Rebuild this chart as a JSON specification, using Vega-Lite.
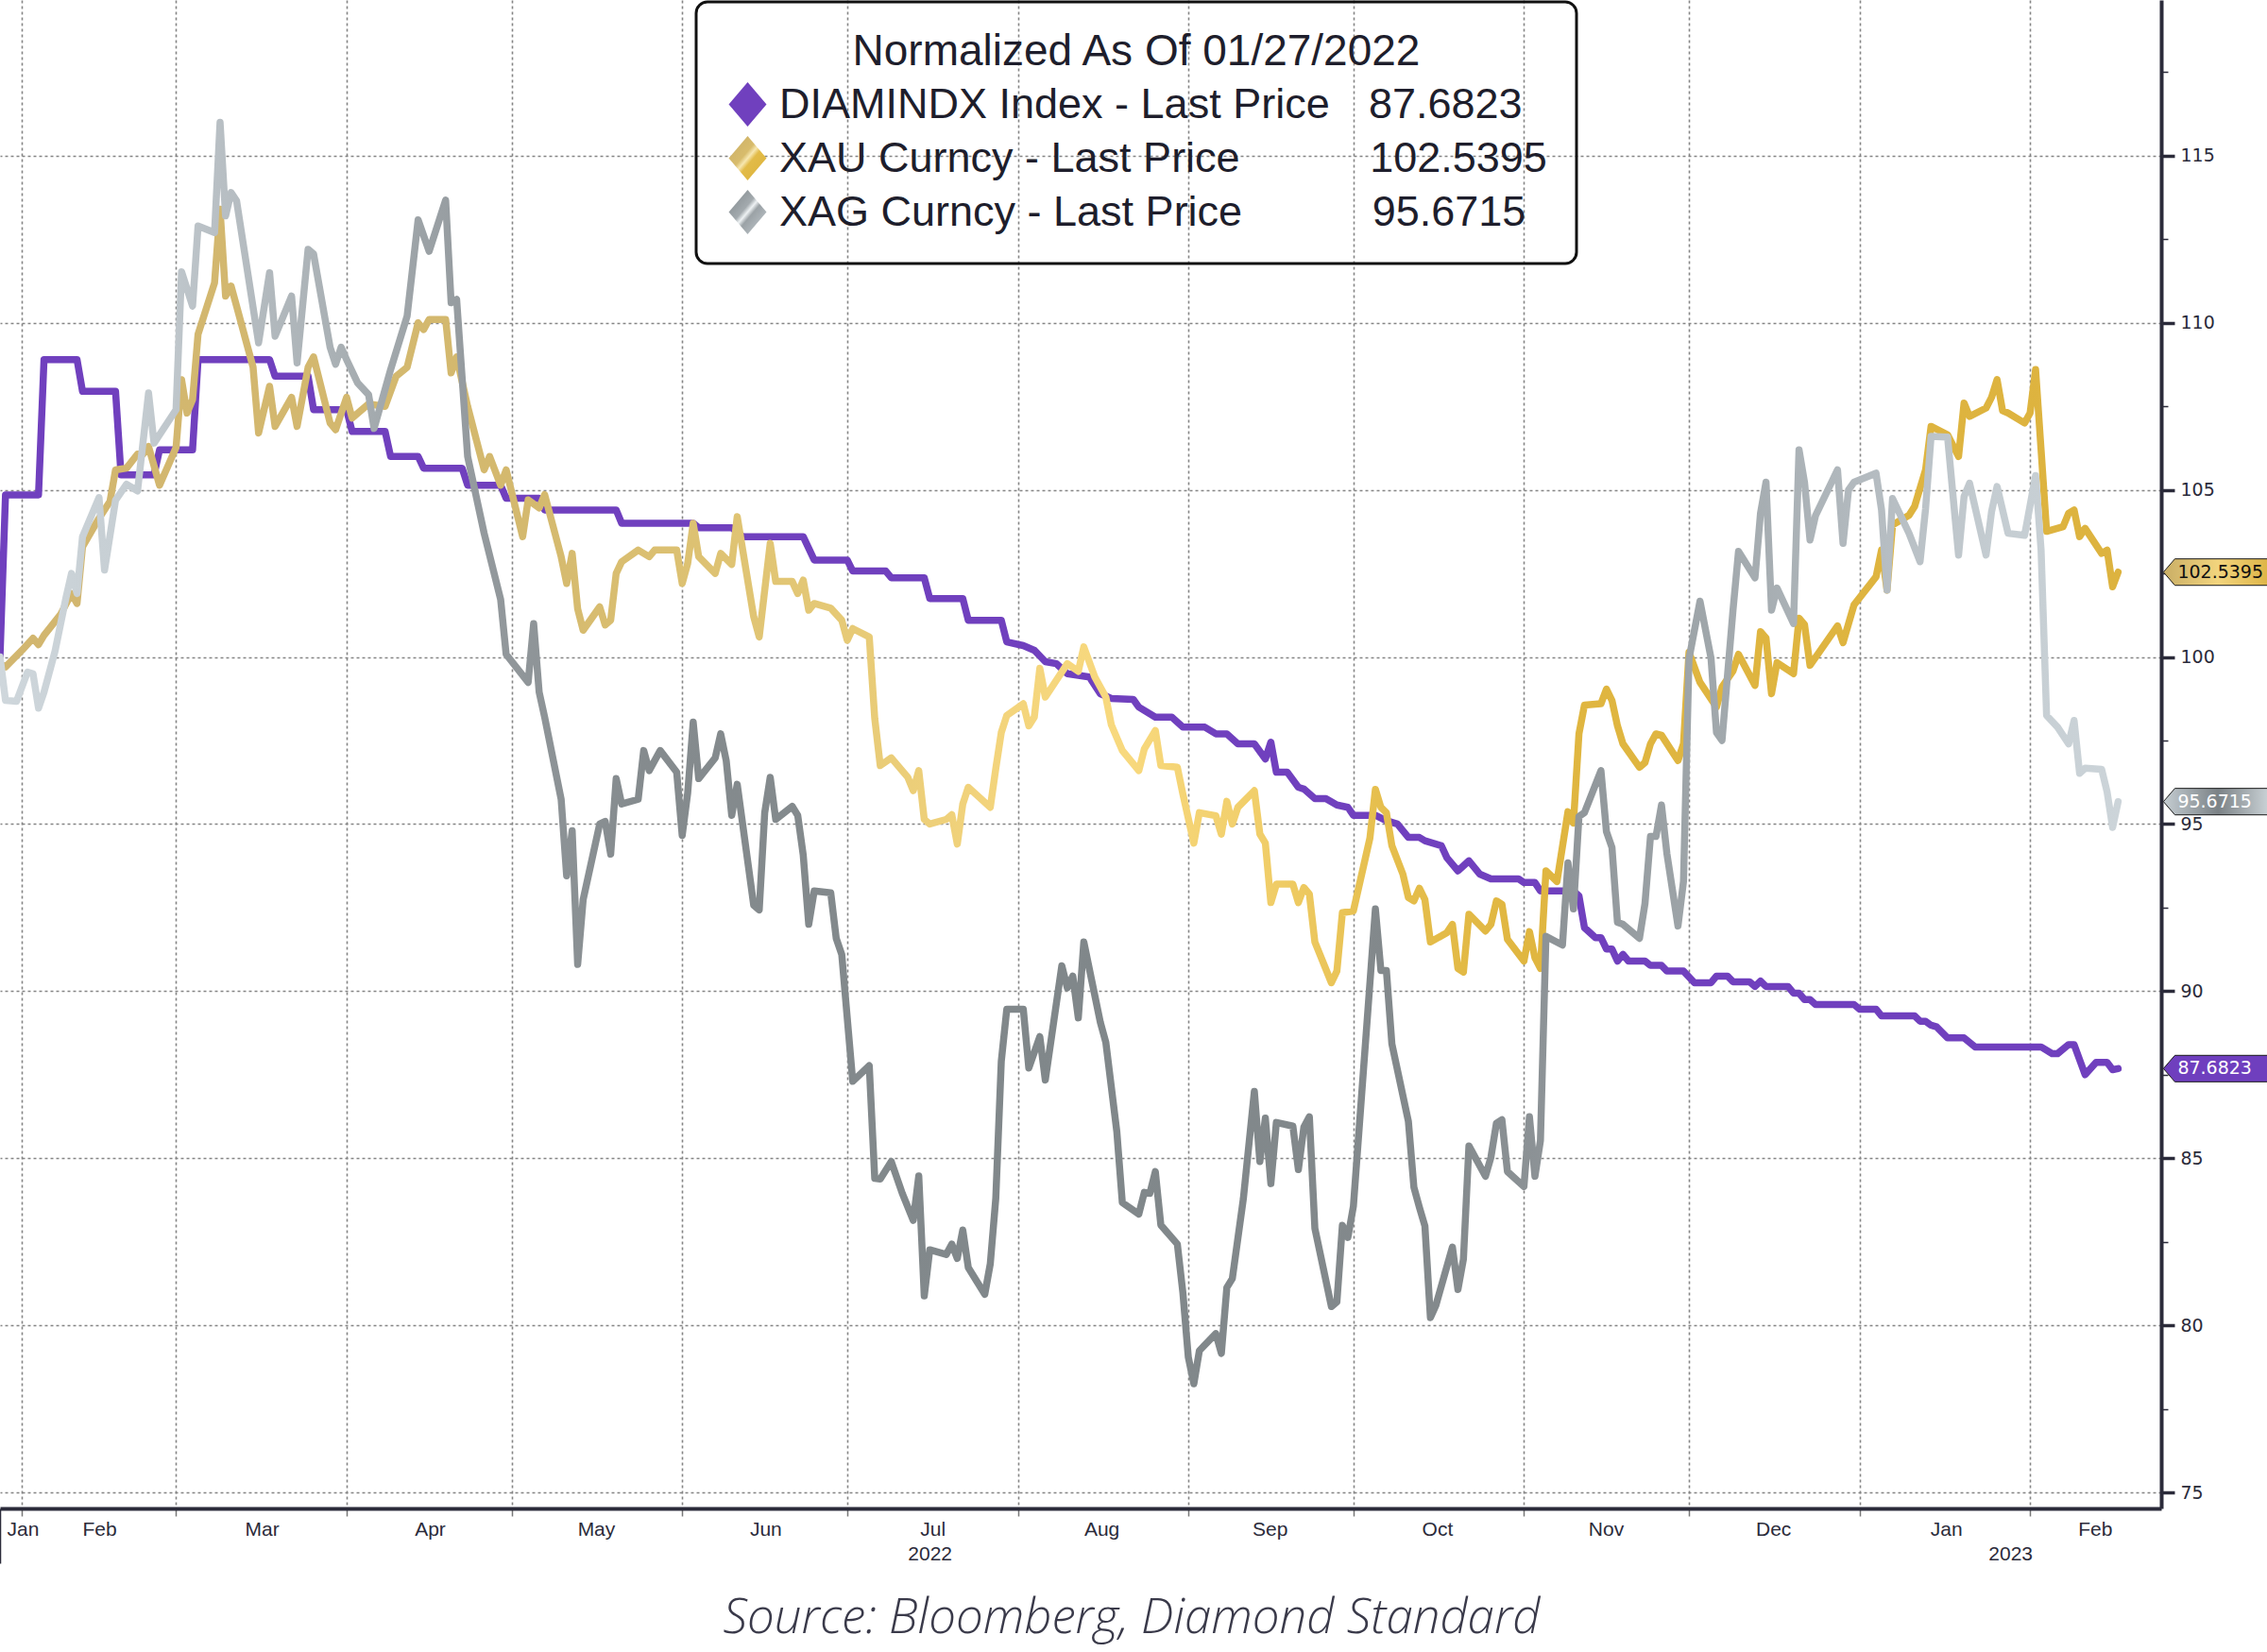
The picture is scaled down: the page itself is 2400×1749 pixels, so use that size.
{
  "$schema": "https://vega.github.io/schema/vega-lite/v6.json",
  "width": 2288,
  "height": 1597,
  "autosize": {"type": "none"},
  "padding": {"left": 0, "top": 0, "right": 112, "bottom": 152},
  "background": "#ffffff",
  "config": {"view": {"stroke": null}, "font": "Liberation Sans"},
  "title": {"text": "Source: Bloomberg, Diamond Standard", "orient": "bottom", "anchor": "middle", "dx": 54, "offset": 10, "font": "Open Sans", "fontSize": 51, "fontStyle": "italic", "fontWeight": 300, "color": "#3a3a4a"},
  "datasets": {
    "diam": [
      {"d":"2022-01-28","v":100},{"d":"2022-01-29","v":104.85},{"d":"2022-02-04","v":104.85},{"d":"2022-02-05","v":108.9},{"d":"2022-02-11","v":108.9},{"d":"2022-02-12","v":107.95},{"d":"2022-02-18","v":107.95},{"d":"2022-02-19","v":105.45},{"d":"2022-02-25","v":105.45},{"d":"2022-02-26","v":106.2},{"d":"2022-03-04","v":106.2},{"d":"2022-03-05","v":108.9},{"d":"2022-03-18","v":108.9},{"d":"2022-03-19","v":108.4},{"d":"2022-03-25","v":108.4},{"d":"2022-03-26","v":107.4},{"d":"2022-04-01","v":107.4},{"d":"2022-04-02","v":106.75},{"d":"2022-04-08","v":106.75},{"d":"2022-04-09","v":106.0},{"d":"2022-04-14","v":106.0},{"d":"2022-04-15","v":105.65},{"d":"2022-04-22","v":105.65},{"d":"2022-04-23","v":105.14},{"d":"2022-04-29","v":105.14},{"d":"2022-04-30","v":104.75},{"d":"2022-05-06","v":104.75},{"d":"2022-05-07","v":104.4},{"d":"2022-05-20","v":104.4},{"d":"2022-05-21","v":104.0},{"d":"2022-06-03","v":104.0},{"d":"2022-06-04","v":103.87},{"d":"2022-06-10","v":103.87},{"d":"2022-06-12","v":103.6},{"d":"2022-06-23","v":103.6},{"d":"2022-06-25","v":102.9},{"d":"2022-07-01","v":102.9},{"d":"2022-07-02","v":102.57},{"d":"2022-07-08","v":102.57},{"d":"2022-07-09","v":102.37},{"d":"2022-07-15","v":102.37},{"d":"2022-07-16","v":101.75},{"d":"2022-07-22","v":101.75},{"d":"2022-07-23","v":101.1},{"d":"2022-07-29","v":101.1},{"d":"2022-07-30","v":100.45},{"d":"2022-08-02","v":100.34},{"d":"2022-08-04","v":100.2},{"d":"2022-08-06","v":99.86},{"d":"2022-08-08","v":99.8},{"d":"2022-08-10","v":99.5},{"d":"2022-08-14","v":99.4},{"d":"2022-08-16","v":98.9},{"d":"2022-08-18","v":98.76},{"d":"2022-08-22","v":98.73},{"d":"2022-08-23","v":98.5},{"d":"2022-08-26","v":98.2},{"d":"2022-08-29","v":98.2},{"d":"2022-08-31","v":97.9},{"d":"2022-09-04","v":97.9},{"d":"2022-09-06","v":97.7},{"d":"2022-09-08","v":97.7},{"d":"2022-09-10","v":97.4},{"d":"2022-09-13","v":97.4},{"d":"2022-09-15","v":96.95},{"d":"2022-09-16","v":97.45},{"d":"2022-09-17","v":96.55},{"d":"2022-09-19","v":96.55},{"d":"2022-09-21","v":96.1},{"d":"2022-09-22","v":96.05},{"d":"2022-09-24","v":95.76},{"d":"2022-09-26","v":95.76},{"d":"2022-09-28","v":95.57},{"d":"2022-09-30","v":95.5},{"d":"2022-10-01","v":95.26},{"d":"2022-10-05","v":95.26},{"d":"2022-10-07","v":95.1},{"d":"2022-10-09","v":95.0},{"d":"2022-10-11","v":94.6},{"d":"2022-10-13","v":94.6},{"d":"2022-10-14","v":94.5},{"d":"2022-10-17","v":94.35},{"d":"2022-10-18","v":93.99},{"d":"2022-10-20","v":93.6},{"d":"2022-10-22","v":93.9},{"d":"2022-10-24","v":93.5},{"d":"2022-10-26","v":93.36},{"d":"2022-10-31","v":93.36},{"d":"2022-11-01","v":93.25},{"d":"2022-11-03","v":93.25},{"d":"2022-11-04","v":93.0},{"d":"2022-11-10","v":93.0},{"d":"2022-11-11","v":92.85},{"d":"2022-11-12","v":91.9},{"d":"2022-11-14","v":91.6},{"d":"2022-11-15","v":91.6},{"d":"2022-11-16","v":91.26},{"d":"2022-11-17","v":91.26},{"d":"2022-11-18","v":90.9},{"d":"2022-11-19","v":91.1},{"d":"2022-11-20","v":90.9},{"d":"2022-11-23","v":90.9},{"d":"2022-11-24","v":90.77},{"d":"2022-11-26","v":90.77},{"d":"2022-11-27","v":90.6},{"d":"2022-11-30","v":90.6},{"d":"2022-12-02","v":90.25},{"d":"2022-12-05","v":90.25},{"d":"2022-12-06","v":90.45},{"d":"2022-12-08","v":90.45},{"d":"2022-12-09","v":90.28},{"d":"2022-12-12","v":90.28},{"d":"2022-12-13","v":90.14},{"d":"2022-12-14","v":90.3},{"d":"2022-12-15","v":90.14},{"d":"2022-12-19","v":90.14},{"d":"2022-12-20","v":89.94},{"d":"2022-12-21","v":89.94},{"d":"2022-12-22","v":89.75},{"d":"2022-12-23","v":89.75},{"d":"2022-12-24","v":89.6},{"d":"2022-12-31","v":89.6},{"d":"2023-01-01","v":89.46},{"d":"2023-01-04","v":89.46},{"d":"2023-01-05","v":89.26},{"d":"2023-01-11","v":89.26},{"d":"2023-01-12","v":89.1},{"d":"2023-01-13","v":89.1},{"d":"2023-01-14","v":88.98},{"d":"2023-01-15","v":88.93},{"d":"2023-01-17","v":88.6},{"d":"2023-01-20","v":88.6},{"d":"2023-01-22","v":88.33},{"d":"2023-02-03","v":88.33},{"d":"2023-02-05","v":88.13},{"d":"2023-02-06","v":88.13},{"d":"2023-02-08","v":88.4},{"d":"2023-02-09","v":88.4},{"d":"2023-02-11","v":87.5},{"d":"2023-02-13","v":87.87},{"d":"2023-02-15","v":87.87},{"d":"2023-02-16","v":87.65},{"d":"2023-02-17","v":87.6823}
    ],
    "xau": [
      {"d":"2022-01-28","v":99.8},{"d":"2022-01-29","v":99.7},{"d":"2022-02-01","v":100.2},{"d":"2022-02-03","v":100.56},{"d":"2022-02-04","v":100.37},{"d":"2022-02-05","v":100.65},{"d":"2022-02-08","v":101.27},{"d":"2022-02-10","v":101.9},{"d":"2022-02-11","v":101.6},{"d":"2022-02-12","v":103.3},{"d":"2022-02-15","v":104.15},{"d":"2022-02-17","v":104.66},{"d":"2022-02-18","v":105.6},{"d":"2022-02-20","v":105.65},{"d":"2022-02-22","v":106.07},{"d":"2022-02-23","v":106.07},{"d":"2022-02-24","v":106.3},{"d":"2022-02-26","v":105.14},{"d":"2022-03-01","v":106.27},{"d":"2022-03-02","v":108.3},{"d":"2022-03-03","v":107.3},{"d":"2022-03-04","v":107.7},{"d":"2022-03-05","v":109.66},{"d":"2022-03-08","v":111.2},{"d":"2022-03-09","v":113.4},{"d":"2022-03-10","v":110.8},{"d":"2022-03-11","v":111.1},{"d":"2022-03-12","v":110.5},{"d":"2022-03-15","v":108.67},{"d":"2022-03-16","v":106.7},{"d":"2022-03-18","v":108.1},{"d":"2022-03-19","v":106.9},{"d":"2022-03-22","v":107.77},{"d":"2022-03-23","v":106.9},{"d":"2022-03-25","v":108.67},{"d":"2022-03-26","v":108.98},{"d":"2022-03-29","v":107.0},{"d":"2022-03-30","v":106.8},{"d":"2022-04-01","v":107.77},{"d":"2022-04-02","v":107.15},{"d":"2022-04-05","v":107.57},{"d":"2022-04-08","v":107.5},{"d":"2022-04-10","v":108.4},{"d":"2022-04-12","v":108.67},{"d":"2022-04-14","v":110.0},{"d":"2022-04-15","v":109.8},{"d":"2022-04-16","v":110.1},{"d":"2022-04-19","v":110.1},{"d":"2022-04-20","v":108.5},{"d":"2022-04-21","v":108.98},{"d":"2022-04-23","v":107.5},{"d":"2022-04-26","v":105.6},{"d":"2022-04-27","v":106.0},{"d":"2022-04-29","v":105.14},{"d":"2022-04-30","v":105.6},{"d":"2022-05-03","v":103.6},{"d":"2022-05-04","v":104.7},{"d":"2022-05-06","v":104.46},{"d":"2022-05-07","v":104.86},{"d":"2022-05-10","v":103.0},{"d":"2022-05-11","v":102.2},{"d":"2022-05-12","v":103.1},{"d":"2022-05-13","v":101.44},{"d":"2022-05-14","v":100.8},{"d":"2022-05-17","v":101.5},{"d":"2022-05-18","v":100.96},{"d":"2022-05-19","v":101.1},{"d":"2022-05-20","v":102.5},{"d":"2022-05-21","v":102.85},{"d":"2022-05-24","v":103.2},{"d":"2022-05-26","v":103.0},{"d":"2022-05-27","v":103.2},{"d":"2022-05-31","v":103.2},{"d":"2022-06-01","v":102.2},{"d":"2022-06-02","v":102.8},{"d":"2022-06-03","v":104.0},{"d":"2022-06-04","v":103.0},{"d":"2022-06-07","v":102.5},{"d":"2022-06-08","v":103.1},{"d":"2022-06-10","v":102.77},{"d":"2022-06-11","v":104.2},{"d":"2022-06-14","v":101.2},{"d":"2022-06-15","v":100.6},{"d":"2022-06-17","v":103.4},{"d":"2022-06-18","v":102.26},{"d":"2022-06-21","v":102.26},{"d":"2022-06-22","v":101.9},{"d":"2022-06-23","v":102.3},{"d":"2022-06-24","v":101.4},{"d":"2022-06-25","v":101.6},{"d":"2022-06-28","v":101.46},{"d":"2022-06-30","v":101.1},{"d":"2022-07-01","v":100.5},{"d":"2022-07-02","v":100.85},{"d":"2022-07-05","v":100.6},{"d":"2022-07-06","v":98.16},{"d":"2022-07-07","v":96.75},{"d":"2022-07-09","v":96.98},{"d":"2022-07-12","v":96.4},{"d":"2022-07-13","v":96.0},{"d":"2022-07-14","v":96.6},{"d":"2022-07-15","v":95.14},{"d":"2022-07-16","v":95.0},{"d":"2022-07-19","v":95.14},{"d":"2022-07-20","v":95.28},{"d":"2022-07-21","v":94.4},{"d":"2022-07-22","v":95.6},{"d":"2022-07-23","v":96.1},{"d":"2022-07-27","v":95.5},{"d":"2022-07-28","v":96.66},{"d":"2022-07-29","v":97.74},{"d":"2022-07-30","v":98.25},{"d":"2022-08-02","v":98.6},{"d":"2022-08-03","v":97.94},{"d":"2022-08-04","v":98.2},{"d":"2022-08-05","v":99.66},{"d":"2022-08-06","v":98.8},{"d":"2022-08-10","v":99.8},{"d":"2022-08-12","v":99.57},{"d":"2022-08-13","v":100.3},{"d":"2022-08-15","v":99.4},{"d":"2022-08-17","v":98.8},{"d":"2022-08-18","v":97.97},{"d":"2022-08-20","v":97.2},{"d":"2022-08-23","v":96.6},{"d":"2022-08-24","v":97.25},{"d":"2022-08-26","v":97.8},{"d":"2022-08-27","v":96.75},{"d":"2022-08-30","v":96.7},{"d":"2022-08-31","v":95.9},{"d":"2022-09-02","v":94.43},{"d":"2022-09-03","v":95.34},{"d":"2022-09-06","v":95.25},{"d":"2022-09-07","v":94.7},{"d":"2022-09-08","v":95.68},{"d":"2022-09-09","v":95.0},{"d":"2022-09-10","v":95.5},{"d":"2022-09-13","v":96.0},{"d":"2022-09-14","v":94.7},{"d":"2022-09-15","v":94.43},{"d":"2022-09-16","v":92.65},{"d":"2022-09-17","v":93.2},{"d":"2022-09-20","v":93.2},{"d":"2022-09-21","v":92.65},{"d":"2022-09-22","v":93.1},{"d":"2022-09-23","v":92.9},{"d":"2022-09-24","v":91.47},{"d":"2022-09-27","v":90.25},{"d":"2022-09-28","v":90.6},{"d":"2022-09-29","v":92.35},{"d":"2022-10-01","v":92.4},{"d":"2022-10-04","v":94.58},{"d":"2022-10-05","v":96.04},{"d":"2022-10-06","v":95.5},{"d":"2022-10-07","v":95.34},{"d":"2022-10-08","v":94.35},{"d":"2022-10-10","v":93.5},{"d":"2022-10-11","v":92.8},{"d":"2022-10-12","v":92.7},{"d":"2022-10-13","v":93.08},{"d":"2022-10-14","v":92.74},{"d":"2022-10-15","v":91.47},{"d":"2022-10-18","v":91.75},{"d":"2022-10-19","v":92.0},{"d":"2022-10-20","v":90.68},{"d":"2022-10-21","v":90.57},{"d":"2022-10-22","v":92.3},{"d":"2022-10-25","v":91.8},{"d":"2022-10-26","v":92.0},{"d":"2022-10-27","v":92.7},{"d":"2022-10-28","v":92.6},{"d":"2022-10-29","v":91.55},{"d":"2022-11-01","v":90.9},{"d":"2022-11-02","v":91.78},{"d":"2022-11-03","v":91.0},{"d":"2022-11-04","v":90.68},{"d":"2022-11-05","v":93.6},{"d":"2022-11-07","v":93.28},{"d":"2022-11-09","v":95.37},{"d":"2022-11-10","v":95.03},{"d":"2022-11-11","v":97.7},{"d":"2022-11-12","v":98.56},{"d":"2022-11-15","v":98.6},{"d":"2022-11-16","v":99.04},{"d":"2022-11-17","v":98.7},{"d":"2022-11-18","v":97.94},{"d":"2022-11-19","v":97.4},{"d":"2022-11-22","v":96.7},{"d":"2022-11-23","v":96.84},{"d":"2022-11-24","v":97.4},{"d":"2022-11-25","v":97.7},{"d":"2022-11-26","v":97.66},{"d":"2022-11-29","v":96.9},{"d":"2022-11-30","v":97.4},{"d":"2022-12-01","v":100.14},{"d":"2022-12-03","v":99.24},{"d":"2022-12-06","v":98.5},{"d":"2022-12-07","v":99.1},{"d":"2022-12-09","v":99.58},{"d":"2022-12-10","v":100.08},{"d":"2022-12-13","v":99.15},{"d":"2022-12-14","v":100.76},{"d":"2022-12-15","v":100.57},{"d":"2022-12-16","v":98.9},{"d":"2022-12-17","v":99.83},{"d":"2022-12-20","v":99.5},{"d":"2022-12-21","v":101.16},{"d":"2022-12-22","v":100.97},{"d":"2022-12-23","v":99.75},{"d":"2022-12-28","v":100.93},{"d":"2022-12-29","v":100.43},{"d":"2022-12-31","v":101.56},{"d":"2023-01-04","v":102.4},{"d":"2023-01-05","v":103.2},{"d":"2023-01-06","v":102.0},{"d":"2023-01-07","v":103.95},{"d":"2023-01-10","v":104.24},{"d":"2023-01-11","v":104.5},{"d":"2023-01-13","v":105.6},{"d":"2023-01-14","v":106.9},{"d":"2023-01-17","v":106.65},{"d":"2023-01-19","v":106.0},{"d":"2023-01-20","v":107.6},{"d":"2023-01-21","v":107.2},{"d":"2023-01-24","v":107.45},{"d":"2023-01-25","v":107.77},{"d":"2023-01-26","v":108.3},{"d":"2023-01-27","v":107.37},{"d":"2023-01-28","v":107.3},{"d":"2023-01-31","v":107.0},{"d":"2023-02-01","v":107.3},{"d":"2023-02-02","v":108.6},{"d":"2023-02-03","v":106.2},{"d":"2023-02-04","v":103.76},{"d":"2023-02-07","v":103.9},{"d":"2023-02-08","v":104.3},{"d":"2023-02-09","v":104.4},{"d":"2023-02-10","v":103.6},{"d":"2023-02-11","v":103.85},{"d":"2023-02-14","v":103.1},{"d":"2023-02-15","v":103.2},{"d":"2023-02-16","v":102.1},{"d":"2023-02-17","v":102.5395}
    ],
    "xag": [
      {"d":"2022-01-28","v":100.0},{"d":"2022-01-29","v":98.7},{"d":"2022-01-31","v":98.67},{"d":"2022-02-02","v":99.55},{"d":"2022-02-03","v":99.5},{"d":"2022-02-04","v":98.47},{"d":"2022-02-05","v":98.95},{"d":"2022-02-07","v":100.17},{"d":"2022-02-09","v":101.78},{"d":"2022-02-10","v":102.5},{"d":"2022-02-11","v":101.9},{"d":"2022-02-12","v":103.6},{"d":"2022-02-15","v":104.77},{"d":"2022-02-16","v":102.6},{"d":"2022-02-17","v":103.64},{"d":"2022-02-18","v":104.69},{"d":"2022-02-20","v":105.17},{"d":"2022-02-22","v":104.97},{"d":"2022-02-24","v":107.9},{"d":"2022-02-25","v":106.4},{"d":"2022-03-01","v":107.4},{"d":"2022-03-02","v":111.53},{"d":"2022-03-04","v":110.5},{"d":"2022-03-05","v":112.9},{"d":"2022-03-08","v":112.7},{"d":"2022-03-09","v":116.0},{"d":"2022-03-10","v":113.2},{"d":"2022-03-11","v":113.9},{"d":"2022-03-12","v":113.65},{"d":"2022-03-16","v":109.4},{"d":"2022-03-18","v":111.5},{"d":"2022-03-19","v":109.6},{"d":"2022-03-22","v":110.8},{"d":"2022-03-23","v":108.8},{"d":"2022-03-25","v":112.2},{"d":"2022-03-26","v":112.06},{"d":"2022-03-29","v":109.27},{"d":"2022-03-30","v":108.76},{"d":"2022-03-31","v":109.27},{"d":"2022-04-01","v":108.9},{"d":"2022-04-03","v":108.2},{"d":"2022-04-05","v":107.85},{"d":"2022-04-06","v":106.84},{"d":"2022-04-09","v":108.6},{"d":"2022-04-12","v":110.2},{"d":"2022-04-14","v":113.08},{"d":"2022-04-16","v":112.14},{"d":"2022-04-19","v":113.67},{"d":"2022-04-20","v":110.6},{"d":"2022-04-21","v":110.7},{"d":"2022-04-23","v":106.0},{"d":"2022-04-26","v":103.7},{"d":"2022-04-29","v":101.72},{"d":"2022-04-30","v":100.08},{"d":"2022-05-04","v":99.24},{"d":"2022-05-05","v":101.0},{"d":"2022-05-06","v":98.95},{"d":"2022-05-07","v":98.2},{"d":"2022-05-10","v":95.74},{"d":"2022-05-11","v":93.45},{"d":"2022-05-12","v":94.8},{"d":"2022-05-13","v":90.8},{"d":"2022-05-14","v":92.74},{"d":"2022-05-17","v":95.0},{"d":"2022-05-18","v":95.08},{"d":"2022-05-19","v":94.1},{"d":"2022-05-20","v":96.36},{"d":"2022-05-21","v":95.6},{"d":"2022-05-24","v":95.74},{"d":"2022-05-25","v":97.2},{"d":"2022-05-26","v":96.6},{"d":"2022-05-28","v":97.2},{"d":"2022-05-31","v":96.55},{"d":"2022-06-01","v":94.66},{"d":"2022-06-02","v":95.93},{"d":"2022-06-03","v":98.05},{"d":"2022-06-04","v":96.36},{"d":"2022-06-07","v":96.98},{"d":"2022-06-08","v":97.7},{"d":"2022-06-09","v":96.9},{"d":"2022-06-10","v":95.26},{"d":"2022-06-11","v":96.19},{"d":"2022-06-14","v":92.57},{"d":"2022-06-15","v":92.43},{"d":"2022-06-16","v":95.34},{"d":"2022-06-17","v":96.4},{"d":"2022-06-18","v":95.14},{"d":"2022-06-21","v":95.53},{"d":"2022-06-22","v":95.26},{"d":"2022-06-23","v":94.07},{"d":"2022-06-24","v":92.0},{"d":"2022-06-25","v":93.0},{"d":"2022-06-28","v":92.94},{"d":"2022-06-29","v":91.58},{"d":"2022-06-30","v":91.1},{"d":"2022-07-02","v":87.3},{"d":"2022-07-05","v":87.77},{"d":"2022-07-06","v":84.4},{"d":"2022-07-07","v":84.38},{"d":"2022-07-09","v":84.9},{"d":"2022-07-11","v":83.95},{"d":"2022-07-13","v":83.14},{"d":"2022-07-14","v":84.47},{"d":"2022-07-15","v":80.88},{"d":"2022-07-16","v":82.26},{"d":"2022-07-19","v":82.12},{"d":"2022-07-20","v":82.43},{"d":"2022-07-21","v":82.0},{"d":"2022-07-22","v":82.85},{"d":"2022-07-23","v":81.73},{"d":"2022-07-26","v":80.93},{"d":"2022-07-27","v":81.84},{"d":"2022-07-28","v":83.8},{"d":"2022-07-29","v":87.9},{"d":"2022-07-30","v":89.46},{"d":"2022-08-02","v":89.46},{"d":"2022-08-03","v":87.7},{"d":"2022-08-05","v":88.64},{"d":"2022-08-06","v":87.34},{"d":"2022-08-09","v":90.76},{"d":"2022-08-10","v":90.1},{"d":"2022-08-11","v":90.45},{"d":"2022-08-12","v":89.2},{"d":"2022-08-13","v":91.47},{"d":"2022-08-16","v":89.07},{"d":"2022-08-17","v":88.47},{"d":"2022-08-19","v":85.8},{"d":"2022-08-20","v":83.67},{"d":"2022-08-23","v":83.33},{"d":"2022-08-24","v":83.98},{"d":"2022-08-25","v":83.95},{"d":"2022-08-26","v":84.6},{"d":"2022-08-27","v":83.0},{"d":"2022-08-30","v":82.43},{"d":"2022-08-31","v":80.99},{"d":"2022-09-01","v":79.04},{"d":"2022-09-02","v":78.25},{"d":"2022-09-03","v":79.24},{"d":"2022-09-06","v":79.75},{"d":"2022-09-07","v":79.16},{"d":"2022-09-08","v":81.13},{"d":"2022-09-09","v":81.4},{"d":"2022-09-11","v":83.79},{"d":"2022-09-13","v":87.0},{"d":"2022-09-14","v":84.9},{"d":"2022-09-15","v":86.2},{"d":"2022-09-16","v":84.24},{"d":"2022-09-17","v":86.07},{"d":"2022-09-20","v":85.96},{"d":"2022-09-21","v":84.66},{"d":"2022-09-22","v":85.93},{"d":"2022-09-23","v":86.24},{"d":"2022-09-24","v":82.9},{"d":"2022-09-27","v":80.56},{"d":"2022-09-28","v":80.7},{"d":"2022-09-29","v":82.99},{"d":"2022-09-30","v":82.63},{"d":"2022-10-01","v":83.56},{"d":"2022-10-05","v":92.46},{"d":"2022-10-06","v":90.62},{"d":"2022-10-07","v":90.62},{"d":"2022-10-08","v":88.42},{"d":"2022-10-11","v":86.1},{"d":"2022-10-12","v":84.13},{"d":"2022-10-13","v":83.53},{"d":"2022-10-14","v":82.97},{"d":"2022-10-15","v":80.23},{"d":"2022-10-16","v":80.6},{"d":"2022-10-19","v":82.34},{"d":"2022-10-20","v":81.07},{"d":"2022-10-21","v":81.98},{"d":"2022-10-22","v":85.37},{"d":"2022-10-25","v":84.46},{"d":"2022-10-26","v":85.03},{"d":"2022-10-27","v":86.05},{"d":"2022-10-28","v":86.15},{"d":"2022-10-29","v":84.6},{"d":"2022-11-01","v":84.15},{"d":"2022-11-02","v":86.24},{"d":"2022-11-03","v":84.46},{"d":"2022-11-04","v":85.53},{"d":"2022-11-05","v":91.64},{"d":"2022-11-08","v":91.38},{"d":"2022-11-09","v":93.84},{"d":"2022-11-10","v":92.46},{"d":"2022-11-11","v":95.23},{"d":"2022-11-12","v":95.34},{"d":"2022-11-15","v":96.6},{"d":"2022-11-16","v":94.77},{"d":"2022-11-17","v":94.3},{"d":"2022-11-18","v":92.06},{"d":"2022-11-19","v":92.0},{"d":"2022-11-22","v":91.58},{"d":"2022-11-23","v":92.62},{"d":"2022-11-24","v":94.63},{"d":"2022-11-25","v":94.63},{"d":"2022-11-26","v":95.57},{"d":"2022-11-27","v":94.1},{"d":"2022-11-29","v":91.95},{"d":"2022-11-30","v":93.28},{"d":"2022-12-01","v":99.94},{"d":"2022-12-03","v":101.67},{"d":"2022-12-05","v":99.97},{"d":"2022-12-06","v":97.74},{"d":"2022-12-07","v":97.5},{"d":"2022-12-09","v":101.4},{"d":"2022-12-10","v":103.16},{"d":"2022-12-13","v":102.37},{"d":"2022-12-14","v":104.3},{"d":"2022-12-15","v":105.23},{"d":"2022-12-16","v":101.4},{"d":"2022-12-17","v":102.06},{"d":"2022-12-20","v":101.0},{"d":"2022-12-21","v":106.2},{"d":"2022-12-22","v":105.23},{"d":"2022-12-23","v":103.5},{"d":"2022-12-24","v":104.23},{"d":"2022-12-28","v":105.6},{"d":"2022-12-29","v":103.4},{"d":"2022-12-30","v":105.0},{"d":"2022-12-31","v":105.23},{"d":"2023-01-04","v":105.5},{"d":"2023-01-05","v":104.4},{"d":"2023-01-06","v":102.0},{"d":"2023-01-07","v":104.74},{"d":"2023-01-10","v":103.7},{"d":"2023-01-12","v":102.85},{"d":"2023-01-13","v":104.43},{"d":"2023-01-14","v":106.6},{"d":"2023-01-17","v":106.58},{"d":"2023-01-19","v":103.05},{"d":"2023-01-20","v":104.8},{"d":"2023-01-21","v":105.2},{"d":"2023-01-24","v":103.05},{"d":"2023-01-25","v":104.35},{"d":"2023-01-26","v":105.1},{"d":"2023-01-28","v":103.7},{"d":"2023-01-31","v":103.64},{"d":"2023-02-02","v":105.43},{"d":"2023-02-03","v":103.2},{"d":"2023-02-04","v":98.25},{"d":"2023-02-06","v":97.9},{"d":"2023-02-08","v":97.4},{"d":"2023-02-09","v":98.1},{"d":"2023-02-10","v":96.52},{"d":"2023-02-11","v":96.67},{"d":"2023-02-14","v":96.64},{"d":"2023-02-15","v":95.96},{"d":"2023-02-16","v":94.9},{"d":"2023-02-17","v":95.6715}
    ],
    "tags": [
      {"d":"2023-02-17","v":102.5395,"s":"XAU"},
      {"d":"2023-02-17","v":95.6715,"s":"XAG"},
      {"d":"2023-02-17","v":87.6823,"s":"DIAMINDX"}
    ]
  },
  "encoding": {
    "x": {
      "field": "d", "type": "temporal",
      "scale": {"type": "utc", "domain": [{"year": 2022, "month": 1, "date": 28, "utc": true}, {"year": 2023, "month": 2, "date": 24, "hours": 20, "utc": true}]},
      "axis": {
        "title": null,
        "values": [
          {"year": 2022, "month": 1, "date": 28, "utc": true},
          {"year": 2022, "month": 2, "date": 1, "utc": true},
          {"year": 2022, "month": 3, "date": 1, "utc": true},
          {"year": 2022, "month": 4, "date": 1, "utc": true},
          {"year": 2022, "month": 5, "date": 1, "utc": true},
          {"year": 2022, "month": 6, "date": 1, "utc": true},
          {"year": 2022, "month": 7, "date": 1, "utc": true},
          {"year": 2022, "month": 8, "date": 1, "utc": true},
          {"year": 2022, "month": 9, "date": 1, "utc": true},
          {"year": 2022, "month": 10, "date": 1, "utc": true},
          {"year": 2022, "month": 11, "date": 1, "utc": true},
          {"year": 2022, "month": 12, "date": 1, "utc": true},
          {"year": 2023, "month": 1, "date": 1, "utc": true},
          {"year": 2023, "month": 2, "date": 1, "utc": true},
          {"year": 2022, "month": 2, "date": 1, "hours": 3, "utc": true},
          {"year": 2022, "month": 2, "date": 15, "hours": 1, "utc": true},
          {"year": 2022, "month": 3, "date": 16, "hours": 14, "utc": true},
          {"year": 2022, "month": 4, "date": 16, "hours": 3, "utc": true},
          {"year": 2022, "month": 5, "date": 16, "hours": 8, "utc": true},
          {"year": 2022, "month": 6, "date": 16, "hours": 3, "utc": true},
          {"year": 2022, "month": 7, "date": 16, "hours": 12, "utc": true},
          {"year": 2022, "month": 8, "date": 16, "hours": 5, "utc": true},
          {"year": 2022, "month": 9, "date": 15, "hours": 19, "utc": true},
          {"year": 2022, "month": 10, "date": 16, "hours": 5, "utc": true},
          {"year": 2022, "month": 11, "date": 15, "hours": 21, "utc": true},
          {"year": 2022, "month": 12, "date": 16, "hours": 7, "utc": true},
          {"year": 2023, "month": 1, "date": 16, "hours": 17, "utc": true},
          {"year": 2023, "month": 2, "date": 12, "hours": 19, "utc": true},
          {"year": 2022, "month": 7, "date": 15, "hours": 23, "minutes": 30, "utc": true},
          {"year": 2023, "month": 1, "date": 28, "hours": 9, "minutes": 30, "utc": true}
        ],
        "labelExpr": "utchours(datum.value) == 0 ? '' : utcFormat(datum.value - 432000000, utcminutes(datum.value) == 30 ? '%Y' : '%b')",
        "labelFont": "Liberation Sans", "labelFontSize": 21, "labelColor": "#2b2b3a",
        "labelAngle": 0, "labelAlign": "center", "labelBaseline": "top",
        "labelOverlap": false, "labelFlush": false, "labelBound": false,
        "labelPadding": {"condition": {"test": "utcminutes(datum.value) == 30", "value": 29}, "value": 3},
        "grid": true, "gridColor": "#858585", "gridDash": [3, 3], "gridWidth": 1.6,
        "gridOpacity": {"condition": {"test": "utchours(datum.value) == 0 && utcdate(datum.value) == 1", "value": 1}, "value": 0},
        "tickOpacity": {"condition": {"test": "utchours(datum.value) == 0", "value": 1}, "value": 0},
        "tickSize": {"condition": {"test": "utchours(datum.value) == 0 && utcdate(datum.value) == 28", "value": 58}, "value": 8},
        "tickColor": {"condition": {"test": "utchours(datum.value) == 0 && utcdate(datum.value) == 28", "value": "#2b2b3a"}, "value": "#777777"},
        "tickWidth": 1.5,
        "domainColor": "#2b2b3a", "domainWidth": 4
      }
    },
    "y": {
      "field": "v", "type": "quantitative",
      "scale": {"domain": [74.52, 119.66], "nice": false, "zero": false},
      "axis": {
        "title": null, "orient": "right",
        "values": [75, 77.5, 80, 82.5, 85, 87.5, 90, 92.5, 95, 97.5, 100, 102.5, 105, 107.5, 110, 112.5, 115, 117.5],
        "labelExpr": "datum.value % 5 == 0 ? datum.label : ''",
        "labelFont": "DejaVu Sans", "labelFontSize": 19, "labelColor": "#2b2b3a", "labelPadding": 6,
        "labelOverlap": false, "labelFlush": false, "labelBound": false,
        "tickColor": "#2b2b3a",
        "tickSize": {"condition": {"test": "datum.value % 5 == 0", "value": 14}, "value": 7},
        "tickWidth": {"condition": {"test": "datum.value % 5 == 0", "value": 3.5}, "value": 1.5},
        "grid": true, "gridColor": "#858585", "gridDash": [3, 3], "gridWidth": 1.6,
        "gridOpacity": {"condition": {"test": "datum.value % 5 == 0", "value": 1}, "value": 0},
        "domainColor": "#2b2b3a", "domainWidth": 4
      }
    }
  },
  "layer": [
    {
      "data": {"name": "diam"},
      "mark": {"type": "line", "strokeWidth": 7.5, "strokeCap": "round", "strokeJoin": "round"},
      "encoding": {
        "color": {
          "datum": "DIAMINDX Index - Last Price", "type": "nominal",
          "scale": {"domain": ["DIAMINDX Index - Last Price", "XAU Curncy - Last Price", "XAG Curncy - Last Price"], "range": ["#7040be", "#d8b85a", "#a0a7ab"]},
          "legend": {
            "orient": "none", "legendX": 737, "legendY": 2,
            "title": "Normalized As Of 01/27/2022",
            "titleFont": "Liberation Sans", "titleFontSize": 46, "titleFontWeight": "normal", "titleColor": "#1e1e2c", "titleAnchor": "middle", "titlePadding": 8, "titleLimit": 2000,
            "labelFont": "Liberation Sans", "labelFontSize": 45, "labelColor": "#1e1e2c", "labelLimit": 2000, "labelOffset": 10,
            "symbolType": "M0,-1L0.85,0L0,1L-0.85,0Z", "symbolSize": 2209, "symbolStrokeWidth": 0, "symbolOpacity": 1,
            "rowPadding": 10, "padding": 31, "strokeColor": "#111111", "cornerRadius": 12,
            "labelExpr": "datum.value === 'DIAMINDX Index - Last Price' ? datum.label + '\u00a0\u00a0\u00a0\u200a87.6823' : datum.value === 'XAU Curncy - Last Price' ? datum.label + '\u00a0\u00a0\u00a0\u00a0\u00a0\u00a0\u00a0\u00a0\u00a0\u00a0\u00a0102.5395' : datum.label + '\u00a0\u00a0\u00a0\u00a0\u00a0\u00a0\u00a0\u00a0\u00a0\u00a0\u00a095.6715'",
            "encode": {
              "legend": {"update": {"strokeWidth": {"value": 3}}},
              "symbols": {"update": {
                "fill": {"signal": "datum.value === 'XAU Curncy - Last Price' ? {gradient: 'linear', x1: 0, y1: 0, x2: 1, y2: 1, stops: [{offset: 0, color: '#c9ad68'}, {offset: 0.42, color: '#d8bc6c'}, {offset: 0.5, color: '#f7e7b0'}, {offset: 0.58, color: '#e2bb48'}, {offset: 1, color: '#dcb23a'}]} : datum.value === 'XAG Curncy - Last Price' ? {gradient: 'linear', x1: 0, y1: 0, x2: 1, y2: 1, stops: [{offset: 0, color: '#7f868a'}, {offset: 0.42, color: '#a3aaae'}, {offset: 0.5, color: '#eef2f4'}, {offset: 0.58, color: '#9ba2a6'}, {offset: 1, color: '#c5cdd2'}]} : '#7040be'"},
                "stroke": {"value": "transparent"},
                "opacity": {"value": 1}
              }}
            }
          }
        }
      }
    },
    {
      "data": {"name": "xau"},
      "mark": {"type": "line", "strokeWidth": 7.5, "strokeCap": "round", "strokeJoin": "round",
        "stroke": {"gradient": "linear", "x1": 0, "y1": 0, "x2": 1, "y2": 0, "stops": [
          {"offset": 0, "color": "#d2b66f"}, {"offset": 0.25, "color": "#d4b96e"}, {"offset": 0.38, "color": "#e3c775"}, {"offset": 0.47, "color": "#f3d47c"}, {"offset": 0.53, "color": "#f8d97e"}, {"offset": 0.6, "color": "#f0cd68"}, {"offset": 0.65, "color": "#e6bf4e"}, {"offset": 0.72, "color": "#e0b640"}, {"offset": 1, "color": "#ddb33f"}]}}
    },
    {
      "data": {"name": "xag"},
      "mark": {"type": "line", "strokeWidth": 7.5, "strokeCap": "round", "strokeJoin": "round",
        "stroke": {"gradient": "linear", "x1": 0, "y1": 0, "x2": 1, "y2": 0, "stops": [
          {"offset": 0, "color": "#cfd7dc"}, {"offset": 0.06, "color": "#c6ced3"}, {"offset": 0.1, "color": "#b9c0c5"}, {"offset": 0.16, "color": "#a9b0b4"}, {"offset": 0.22, "color": "#959b9f"}, {"offset": 0.3, "color": "#858b8e"}, {"offset": 0.5, "color": "#80878a"}, {"offset": 0.68, "color": "#83898c"}, {"offset": 0.74, "color": "#8f9599"}, {"offset": 0.8, "color": "#9ea5a9"}, {"offset": 0.88, "color": "#b3babf"}, {"offset": 0.94, "color": "#c4ccd1"}, {"offset": 1, "color": "#ccd4d9"}]}}
    },
    {
      "data": {"name": "tags"},
      "transform": [{"filter": "datum.s == 'XAU'"}],
      "mark": {"type": "point", "shape": "M0,0L0.22,-0.255L2.1,-0.255L2.1,0.255L0.22,0.255Z", "size": 12100, "filled": true, "opacity": 1, "xOffset": 48, "stroke": "#1a1a1a", "strokeWidth": 1,
        "fill": {"gradient": "linear", "x1": 0, "y1": 0, "x2": 1, "y2": 0, "stops": [{"offset": 0, "color": "#c9ae66"}, {"offset": 0.5, "color": "#f2d47d"}, {"offset": 1, "color": "#dcb242"}]}}
    },
    {
      "data": {"name": "tags"},
      "transform": [{"filter": "datum.s == 'XAG'"}],
      "mark": {"type": "point", "shape": "M0,0L0.22,-0.255L2.1,-0.255L2.1,0.255L0.22,0.255Z", "size": 12100, "filled": true, "opacity": 1, "xOffset": 48, "stroke": "#1a1a1a", "strokeWidth": 1,
        "fill": {"gradient": "linear", "x1": 0, "y1": 0, "x2": 1, "y2": 0, "stops": [{"offset": 0, "color": "#c5cdd2"}, {"offset": 0.5, "color": "#7b8286"}, {"offset": 1, "color": "#d0d8dc"}]}}
    },
    {
      "data": {"name": "tags"},
      "transform": [{"filter": "datum.s == 'DIAMINDX'"}],
      "mark": {"type": "point", "shape": "M0,0L0.22,-0.255L2.1,-0.255L2.1,0.255L0.22,0.255Z", "size": 12100, "filled": true, "opacity": 1, "xOffset": 48, "stroke": "#1a1a1a", "strokeWidth": 1, "fill": "#6f3fbe"}
    },
    {
      "data": {"name": "tags"},
      "mark": {"type": "text", "align": "left", "baseline": "middle", "xOffset": 63, "font": "DejaVu Sans", "fontSize": 19},
      "encoding": {
        "text": {"field": "v", "type": "quantitative", "format": ".4f"},
        "color": {"condition": {"test": "datum.s == 'XAU'", "value": "#111111"}, "value": "#ffffff"}
      }
    }
  ]
}
